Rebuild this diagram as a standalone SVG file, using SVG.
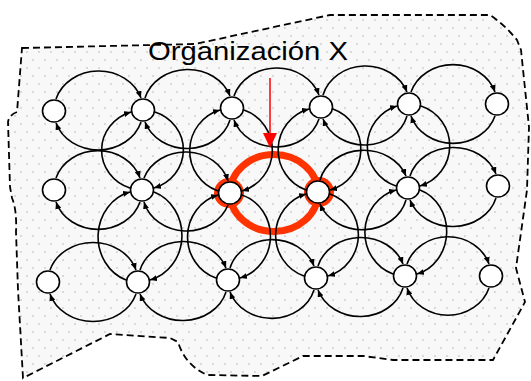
<svg xmlns="http://www.w3.org/2000/svg" width="531" height="381" viewBox="0 0 531 381">
<style>
.arc{fill:none;stroke:#000;stroke-width:1.6;marker-end:url(#ah)}
.node ellipse{fill:#fff;stroke:#000;stroke-width:1.6}
.halo{fill:#ff3300}
</style>
<defs>
<pattern id="dots" width="12" height="16" patternUnits="userSpaceOnUse">
<rect width="12" height="16" fill="#f8f8f8"/>
<circle cx="3" cy="4" r="0.9" fill="#cccccc"/>
<circle cx="9" cy="12" r="0.9" fill="#cccccc"/>
</pattern>
<marker id="ah" markerWidth="8" markerHeight="6" refX="7" refY="3" orient="auto" markerUnits="userSpaceOnUse">
<path d="M0,0 L7,3 L0,6 z" fill="#000"/>
</marker>
</defs>
<g id="boundary">
<path d="M22,48 L195,44 L330,15 L490,15 Q505,25 517,40 L521,50 L529,127 L527,190 L516,268 L525,302 L493,360 L393,360 L363,356 L303,356 L262,376 L207,375 Q185,365 178,342 L170,338 L110,334 L23,378 L18,290 L16,232 Q17,210 12,198 L10,187 L8,122 Q9,115 17,112 Z" fill="url(#dots)" stroke="#000" stroke-width="1.8" stroke-dasharray="7 4"/>
</g>
<g id="highlight">
<ellipse cx="274" cy="193" rx="44" ry="38.5" fill="none" stroke="#ff3300" stroke-width="7"/>
<circle class="halo" cx="229" cy="193" r="15"/>
<circle class="halo" cx="319" cy="192" r="15"/>
</g>
<g id="connectors">
<path class="arc" d="M56,99 A44.5,39 0 0 1 141,98"/>
<path class="arc" d="M141,122 A44.5,39 0 0 1 56,123"/>
<path class="arc" d="M145,98 A44.5,39 0 0 1 230,96"/>
<path class="arc" d="M230,120 A44.5,39 0 0 1 145,122"/>
<path class="arc" d="M234,96 A44.5,39 0 0 1 319,95"/>
<path class="arc" d="M319,119 A44.5,39 0 0 1 234,120"/>
<path class="arc" d="M323,95 A44,39 0 0 1 407,92"/>
<path class="arc" d="M407,116 A44,39 0 0 1 323,119"/>
<path class="arc" d="M411,92 A44,39 0 0 1 495,92"/>
<path class="arc" d="M495,116 A44,39 0 0 1 411,116"/>

<path class="arc" d="M56,178 A44,39 0 0 1 140,178"/>
<path class="arc" d="M140,202 A44,39 0 0 1 56,202"/>
<path class="arc" d="M144,178 A44,39 0 0 1 228,181"/>
<path class="arc" d="M228,205 A44,39 0 0 1 144,202"/>
<path class="arc" d="M320,180 A45,39 0 0 1 406,176"/>
<path class="arc" d="M406,200 A45,39 0 0 1 320,204"/>
<path class="arc" d="M410,176 A45,39 0 0 1 496,174"/>
<path class="arc" d="M496,198 A45,39 0 0 1 410,200"/>

<path class="arc" d="M50,270 A45,39 0 0 1 136,270"/>
<path class="arc" d="M136,294 A45,39 0 0 1 50,294"/>
<path class="arc" d="M140,270 A45,39 0 0 1 226,268"/>
<path class="arc" d="M226,292 A45,39 0 0 1 140,294"/>
<path class="arc" d="M230,268 A44,39 0 0 1 314,266"/>
<path class="arc" d="M314,290 A44,39 0 0 1 230,292"/>
<path class="arc" d="M318,266 A44.5,39 0 0 1 403,264"/>
<path class="arc" d="M403,288 A44.5,39 0 0 1 318,290"/>
<path class="arc" d="M407,264 A43,39 0 0 1 489,264"/>
<path class="arc" d="M489,288 A43,39 0 0 1 407,288"/>

<path class="arc" d="M155,112 A42,40 0 0 1 154,188"/>
<path class="arc" d="M130,188 A42,40 0 0 1 131,112"/>
<path class="arc" d="M244,110 A42,42.5 0 0 1 242,191"/>
<path class="arc" d="M218,191 A42,42.5 0 0 1 220,110"/>
<path class="arc" d="M333,109 A42,42.5 0 0 1 330,190"/>
<path class="arc" d="M306,190 A42,42.5 0 0 1 309,109"/>
<path class="arc" d="M421,106 A42,42 0 0 1 420,186"/>
<path class="arc" d="M396,186 A42,42 0 0 1 397,106"/>

<path class="arc" d="M154,192 A42,46 0 0 1 150,280"/>
<path class="arc" d="M126,280 A42,46 0 0 1 130,192"/>
<path class="arc" d="M242,195 A42,43.5 0 0 1 240,278"/>
<path class="arc" d="M216,278 A42,43.5 0 0 1 218,195"/>
<path class="arc" d="M330,194 A42,43 0 0 1 328,276"/>
<path class="arc" d="M304,276 A42,43 0 0 1 306,194"/>
<path class="arc" d="M420,190 A40,44 0 0 1 417,274"/>
<path class="arc" d="M393,274 A42,44 0 0 1 396,190"/>
</g>
<g id="n11" class="node"><ellipse cx="54" cy="111" rx="11.5" ry="11"/></g>
<g id="n12" class="node"><ellipse cx="143" cy="110" rx="11.5" ry="11"/></g>
<g id="n13" class="node"><ellipse cx="232" cy="108" rx="11.5" ry="11"/></g>
<g id="n14" class="node"><ellipse cx="321" cy="107" rx="11.5" ry="11"/></g>
<g id="n15" class="node"><ellipse cx="409" cy="104" rx="11.5" ry="11"/></g>
<g id="n16" class="node"><ellipse cx="497" cy="104" rx="11.5" ry="11"/></g>
<g id="n21" class="node"><ellipse cx="54" cy="190" rx="11.5" ry="11"/></g>
<g id="n22" class="node"><ellipse cx="142" cy="190" rx="11.5" ry="11"/></g>
<g id="n23" class="node"><ellipse cx="230" cy="193" rx="11.5" ry="11"/></g>
<g id="n24" class="node"><ellipse cx="318" cy="192" rx="11.5" ry="11"/></g>
<g id="n25" class="node"><ellipse cx="408" cy="188" rx="11.5" ry="11"/></g>
<g id="n26" class="node"><ellipse cx="498" cy="186" rx="11.5" ry="11"/></g>
<g id="n31" class="node"><ellipse cx="48" cy="282" rx="11.5" ry="11"/></g>
<g id="n32" class="node"><ellipse cx="138" cy="282" rx="11.5" ry="11"/></g>
<g id="n33" class="node"><ellipse cx="228" cy="280" rx="11.5" ry="11"/></g>
<g id="n34" class="node"><ellipse cx="316" cy="278" rx="11.5" ry="11"/></g>
<g id="n35" class="node"><ellipse cx="405" cy="276" rx="11.5" ry="11"/></g>
<g id="n36" class="node"><ellipse cx="491" cy="276" rx="11.5" ry="11"/></g>
<g id="pointer">
<line x1="270" y1="78" x2="270" y2="135" stroke="#ff0000" stroke-width="1.5"/>
<polygon points="263,133 277,133 270,148" fill="#ff0000"/>
</g>
<g id="label">
<text x="148" y="60" font-family="'Liberation Sans', Arial, sans-serif" font-size="26" textLength="200" lengthAdjust="spacingAndGlyphs" fill="#000">Organización X</text>
</g>
</svg>
